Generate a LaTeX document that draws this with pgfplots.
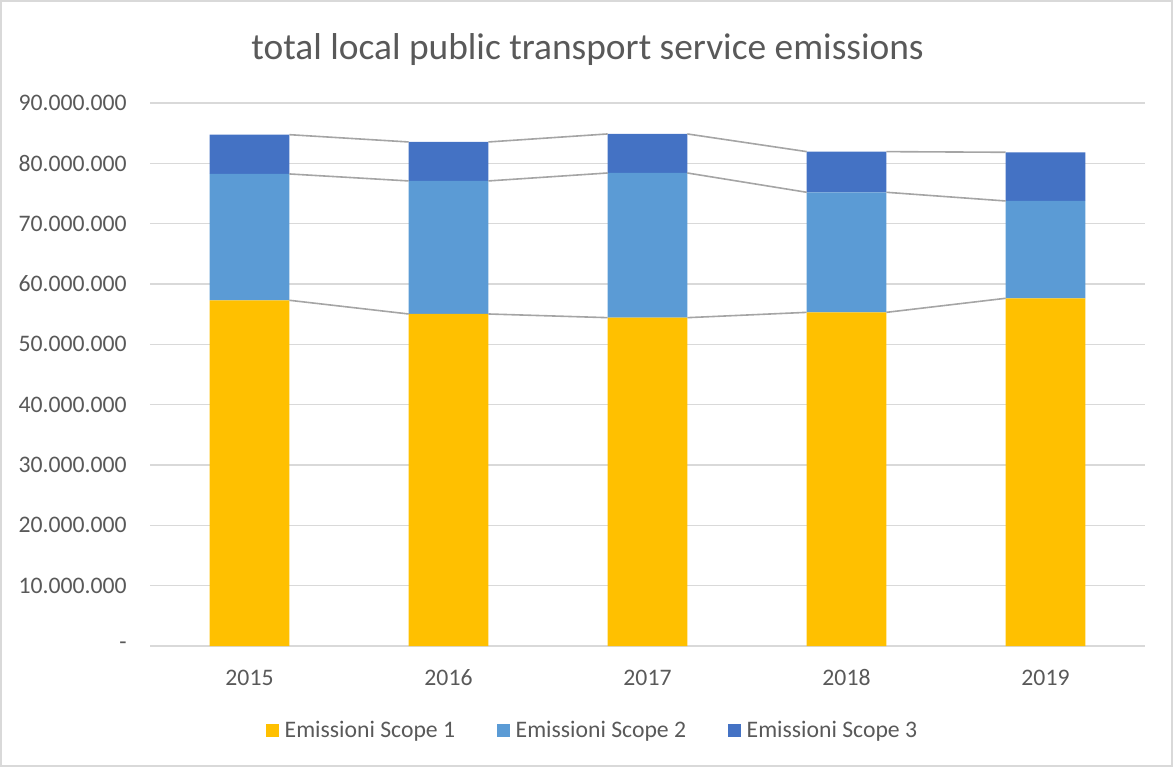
\documentclass[border=0pt]{standalone}
\usepackage{pgfplots}
\usepackage{pgfplotstable}
\pgfplotsset{compat=1.18}
\usepackage{fontspec}
\setmainfont{Carlito}
\definecolor{scopeA}{HTML}{FFC000}
\definecolor{scopeB}{HTML}{5B9BD5}
\definecolor{scopeC}{HTML}{4472C4}
\definecolor{txt}{HTML}{595959}
\definecolor{gridc}{HTML}{D9D9D9}
\definecolor{serline}{HTML}{A5A5A5}

% emissions in millions
\pgfplotstableread{
x s1 s2 s3
0 57.30 20.94 6.51
1 55.03 22.05 6.46
2 54.42 23.98 6.47
3 55.30 19.90 6.74
4 57.63 16.13 8.07
}\emis

\newcommand{\tickfont}{\fontsize{11.85}{14}\selectfont}

\begin{document}
\begin{tikzpicture}
  \useasboundingbox (0,0) rectangle (586.5pt,383.5pt);
  \draw[gridc, line width=0.6pt] (0.5pt,0.5pt) rectangle (586pt,383pt);
  \node[txt, font=\fontsize{18.7}{22}\selectfont] at (293.8pt,358.5pt)
    {total local public transport service emissions};

  \begin{axis}[
    at={(75pt,60.5pt)}, anchor=south west,
    scale only axis, width=497.5pt, height=271.5pt,
    ybar stacked, bar width=0.4,
    xmin=-0.5, xmax=4.5, ymin=0, ymax=90,
    xtick={0,1,2,3,4},
    xticklabels={2015,2016,2017,2018,2019},
    ytick={0,10,20,30,40,50,60,70,80,90},
    yticklabels={-,10.000.000,20.000.000,30.000.000,40.000.000,50.000.000,60.000.000,70.000.000,80.000.000,90.000.000},
    major tick length=0pt, tick style={draw=none},
    ymajorgrids, xmajorgrids=false, grid style={draw=gridc, line width=0.75pt},
    axis line style={draw=none},
    tick label style={font=\tickfont, text=txt},
    yticklabel style={anchor=east, inner sep=0pt, xshift=-11.5pt},
    xticklabel style={anchor=base, inner sep=0pt, yshift=-19.5pt},
    legend style={draw=none, fill=none, legend columns=3,
      at={(0.4437,-0.1565)}, anchor=center, font=\tickfont, text=txt,
      nodes={inner sep=0pt},
      /tikz/every odd column/.append style={column sep=3pt},
      /tikz/every even column/.append style={column sep=20.75pt},
      inner sep=0pt},
    legend image code/.code={\fill[#1] (0pt,-3.25pt) rectangle (6.5pt,3.25pt);},
  ]
    \addplot[fill=scopeA, draw=none] table[x=x, y=s1] {\emis};
    \addplot[fill=scopeB, draw=none] table[x=x, y=s2] {\emis};
    \addplot[fill=scopeC, draw=none] table[x=x, y=s3] {\emis};
    \legend{Emissioni Scope 1, Emissioni Scope 2, Emissioni Scope 3}
  \end{axis}

  % series lines between bars (cumulative tops)
  \begin{axis}[
    at={(75pt,60.5pt)}, anchor=south west,
    scale only axis, width=497.5pt, height=271.5pt,
    xmin=-0.5, xmax=4.5, ymin=0, ymax=90,
    hide axis, unbounded coords=jump,
  ]
    \addplot[serline, line width=0.8pt, mark=none] coordinates {
      (0.2,57.30) (0.8,55.03) (1,nan) (1.2,55.03) (1.8,54.42) (2,nan)
      (2.2,54.42) (2.8,55.30) (3,nan) (3.2,55.30) (3.8,57.63)};
    \addplot[serline, line width=0.8pt, mark=none] coordinates {
      (0.2,78.24) (0.8,77.08) (1,nan) (1.2,77.08) (1.8,78.40) (2,nan)
      (2.2,78.40) (2.8,75.20) (3,nan) (3.2,75.20) (3.8,73.76)};
    \addplot[serline, line width=0.8pt, mark=none] coordinates {
      (0.2,84.75) (0.8,83.54) (1,nan) (1.2,83.54) (1.8,84.87) (2,nan)
      (2.2,84.87) (2.8,81.94) (3,nan) (3.2,81.94) (3.8,81.83)};
  \end{axis}
\end{tikzpicture}
\end{document}
